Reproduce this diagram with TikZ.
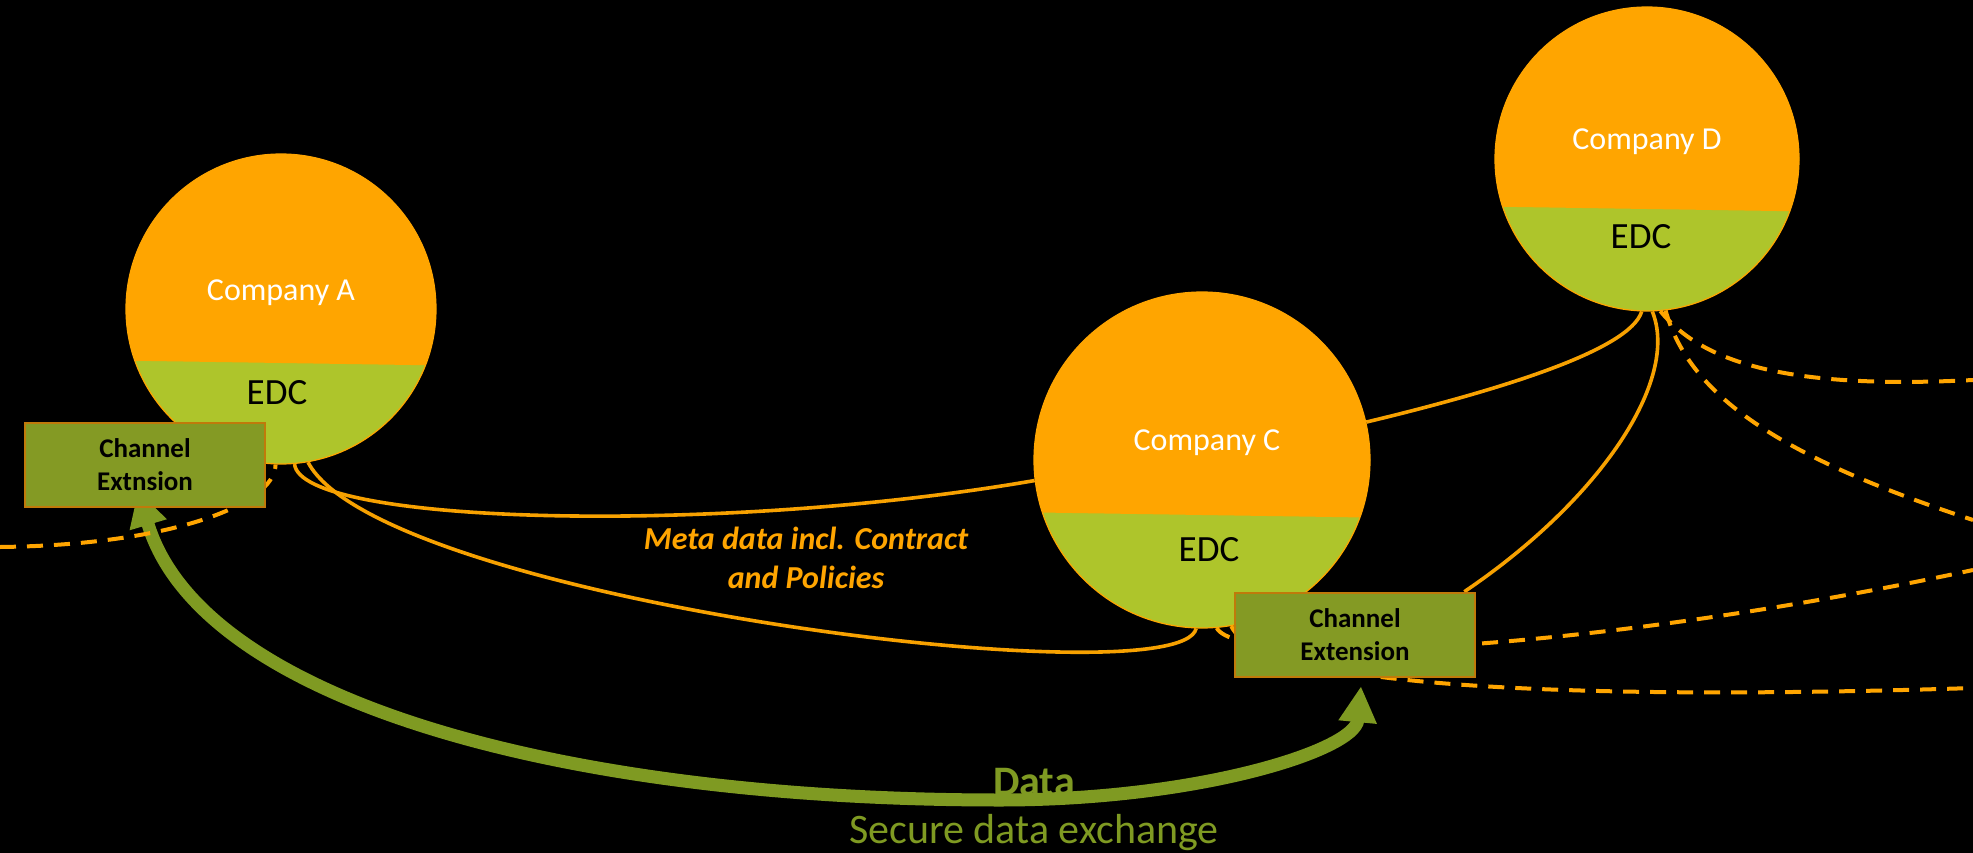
\documentclass[tikz,border=0pt]{standalone}
\usepackage{fontspec}
\setmainfont{Carlito}
\usetikzlibrary{calc,arrows.meta}
\definecolor{corange}{HTML}{FFA500}
\definecolor{cline}{HTML}{F7A100}
\definecolor{edcgreen}{HTML}{AEC52B}
\definecolor{boxfill}{HTML}{849A24}
\definecolor{boxdraw}{HTML}{C07A0A}
\definecolor{olive}{HTML}{7F9A22}
\pgfdeclarelayer{back}
\pgfdeclarelayer{lines}
\pgfsetlayers{back,lines,main}
\begin{document}
\begin{tikzpicture}[x=1pt,y=-1pt,
  comp/.style={circle, draw=corange, line width=1.2pt, fill=edcgreen, inner sep=0pt,
    path picture={\fill[corange] ($(path picture bounding box.center)+(-260,-260)$) -- ($(path picture bounding box.center)+(260,-260)$) -- ($(path picture bounding box.center)+(260,#1+4)$) -- ($(path picture bounding box.center)+(-260,#1-4)$) -- cycle;}},
  comptxt/.style={text=white, font=\fontsize{32}{38}\selectfont, inner sep=0pt},
  edctxt/.style={text=black, font=\fontsize{37}{44}\selectfont, inner sep=0pt},
  chbox/.style={rectangle, draw=boxdraw, line width=2.5pt, fill=boxfill, minimum width=240pt, minimum height=84pt, inner sep=0pt, align=center, font=\bfseries\fontsize{27}{33}\selectfont, text=black},
  solidline/.style={draw=cline, line width=3.6pt},
  dashline/.style={draw=corange, line width=4pt, dash pattern=on 16pt off 11pt},
  dataarrow/.style={draw=olive, line width=13pt, {Triangle[width=36pt,length=36pt]}-{Triangle[width=36pt,length=36pt]}}
]
\useasboundingbox (0,0) rectangle (1973,853);
\begin{pgfonlayer}{back}
  \fill[black] (0,0) rectangle (1973,853);
\end{pgfonlayer}

% companies
\node[comp=54, minimum size=310pt] (A) at (281,309) {};
\node[comp=55, minimum size=336pt] (C) at (1202,460) {};
\node[comp=50, minimum size=304pt] (D) at (1647,159) {};

\node[comptxt] (Atxt) at (281,293) {Company A};
\node[comptxt] (Ctxt) at (1207,443) {Company C};
\node[comptxt] (Dtxt) at (1647,142) {Company D};
\node[edctxt] (Aedc) at (277,393) {EDC};
\node[edctxt] (Cedc) at (1209,550) {EDC};
\node[edctxt] (Dedc) at (1641,237) {EDC};

% channel extensions
\node[chbox] (Abox) at (145,465) {Channel\\Extnsion};
\node[chbox] (Cbox) at (1355,635) {Channel\\Extension};

% free ends
\coordinate (Lend) at (0,547);
\coordinate (R1) at (1973,380);
\coordinate (R2) at (1973,520);
\coordinate (R3) at (1973,570);
\coordinate (R4) at (1973,688);

\begin{pgfonlayer}{lines}
  % data arrow
  \draw[dataarrow] ($(Abox.south)+(-7,-18)$) .. controls (200,700) and (560,800) .. (1000,800)
     .. controls (1200,800) and (1355,750) .. ($(Cbox.south)+(6,8)$);
  % dashed connectors
  \draw[dashline] (Lend) .. controls (170,545) and (275,505) .. (A.-92);
  \draw[dashline] (D.-85) .. controls (1700,360) and (1780,390) .. (R1);
  \draw[dashline] (D.-83) .. controls (1690,400) and (1790,460) .. (R2);
  \draw[dashline] (C.-85) .. controls (1240,670) and (1600,650) .. (R3);
  \draw[dashline] (C.-80) .. controls (1260,690) and (1600,700) .. (R4);
  % solid connectors
  \draw[solidline] (A.-85) .. controls (300,525) and (720,535) .. (C.187);
  \draw[solidline] (A.-80) .. controls (380,600) and (1180,700) .. (C.-92);
  \draw[solidline] (C.13) .. controls (1500,390) and (1630,350) .. (D.-92);
  \draw[solidline] ($(Cbox.north east)+(-12,0)$) .. controls (1600,500) and (1680,380) .. (D.-88);
\end{pgfonlayer}

% labels
\node[text=corange, font=\bfseries\itshape\fontsize{32}{39}\selectfont, align=center, inner sep=0pt] (meta) at (806,558) {Meta data incl. Contract\\and Policies};
\node[text=olive, font=\bfseries\fontsize{42}{50}\selectfont, anchor=base, inner sep=0pt] (data) at (1034,795) {Data};
\node[text=olive, font=\fontsize{42}{50}\selectfont, anchor=base, inner sep=0pt] (secure) at (1034,843) {Secure data exchange};
\end{tikzpicture}
\end{document}
